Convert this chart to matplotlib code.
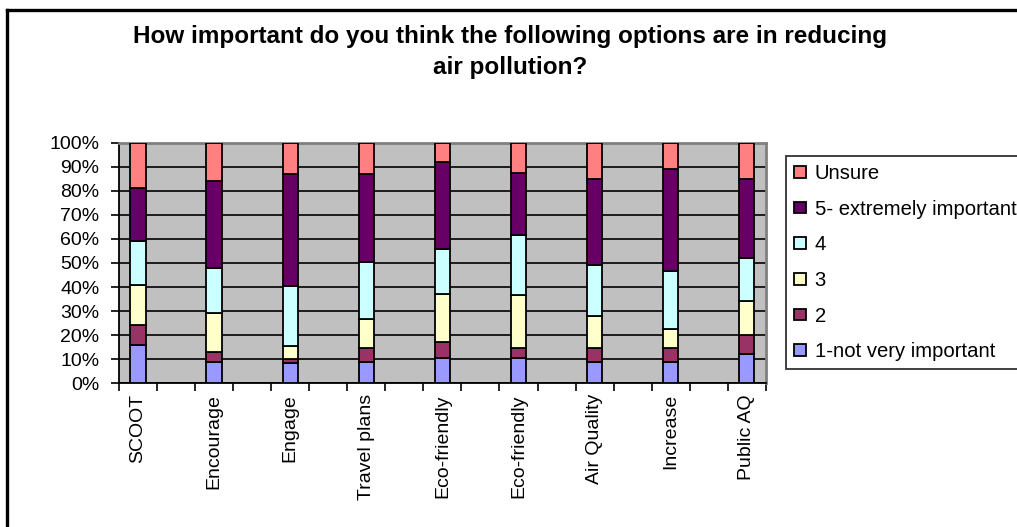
import numpy as np
import matplotlib
matplotlib.use("Agg")
import matplotlib.pyplot as plt
from matplotlib.lines import Line2D

# survey answers per option (percent of respondents)
categories = ['SCOOT', 'Encourage', 'Engage', 'Travel plans', 'Eco-friendly',
              'Eco-friendly', 'Air Quality', 'Increase', 'Public AQ']
not_very = [16, 9, 8.5, 9, 10.5, 10.5, 9, 9, 12]
score_2 = [8, 4, 1.5, 5.5, 6.5, 4, 5.5, 5.5, 8]
score_3 = [17, 16, 5.5, 12, 20, 22, 13.5, 8, 14]
score_4 = [18, 19, 25, 24, 19, 25, 21, 24, 18]
score_5 = [22, 36, 46.5, 36.5, 36, 26, 36, 42.5, 33]
unsure = [19, 16, 13, 13, 8, 12.5, 15, 11, 15]

series = [
    ('1-not very important', not_very, '#9999FF'),
    ('2', score_2, '#993366'),
    ('3', score_3, '#FFFFCC'),
    ('4', score_4, '#CCFFFF'),
    ('5- extremely important', score_5, '#660066'),
    ('Unsure', unsure, '#FF8080'),
]

plt.rcParams['font.family'] = ['Liberation Sans', 'DejaVu Sans']

fig = plt.figure(figsize=(10.17, 5.27), dpi=100)
ax = fig.add_axes([0.117, 0.273, 0.636, 0.456])
ax.set_facecolor('#C0C0C0')

totals = np.sum([np.array(s[1], dtype=float) for s in series], axis=0)
pos = np.arange(len(categories)) * 2   # every other slot stays empty
bottom = np.zeros(len(categories))
handles = []
for label, vals, color in series:
    share = np.array(vals, dtype=float) / totals * 100
    b = ax.bar(pos, share, 0.4, bottom=bottom, color=color,
               edgecolor='black', linewidth=1.3, label=label, zorder=3)
    handles.append(b)
    bottom += share

ax.set_xlim(-0.5, pos[-1] + 0.5)
ax.set_ylim(0, 100)
ax.set_yticks(np.arange(0, 101, 10))
ax.set_yticklabels(['%d%%' % v for v in range(0, 101, 10)])
ax.yaxis.grid(True, color='black', linewidth=1.2, zorder=1)
ax.set_axisbelow(True)

ax.set_xticks(np.arange(-0.5, pos[-1] + 1, 1))
ax.set_xticklabels([])
ax.set_xticks(pos, minor=True)
ax.set_xticklabels(categories, minor=True, rotation=90, fontsize=14)
ax.tick_params(axis='x', which='major', length=6, width=1.2, color='black')
ax.tick_params(axis='x', which='minor', length=0, pad=8)
ax.tick_params(axis='y', length=6, width=1.2, labelsize=14, pad=8)

for side in ('left', 'bottom'):
    ax.spines[side].set_color('black')
    ax.spines[side].set_linewidth(1.3)
for side in ('top', 'right'):
    ax.spines[side].set_color('#808080')
    ax.spines[side].set_linewidth(2)

leg = fig.legend(handles[::-1], [s[0] for s in series][::-1],
                 loc='upper left', bbox_to_anchor=(0.773, 0.704, 0.27, 0.0),
                 mode='expand', fontsize=14.6, frameon=True, fancybox=False,
                 edgecolor='black', handlelength=0.6, handleheight=0.5,
                 handletextpad=0.4, labelspacing=0.82, borderpad=0.4,
                 borderaxespad=0)
leg.get_frame().set_linewidth(1.3)

fig.text(0.5015, 0.93, 'How important do you think the following options are in reducing',
         ha='center', va='center', fontsize=17.5, fontweight='bold')
fig.text(0.5015, 0.871, 'air pollution?',
         ha='center', va='center', fontsize=17.5, fontweight='bold')

# outer chart border, running off the right and bottom edges
fig.add_artist(Line2D([0.0068, 0.0068], [0.0, 0.981], color='black', linewidth=2.4,
                      transform=fig.transFigure))
fig.add_artist(Line2D([0.0068, 1.0], [0.981, 0.981], color='black', linewidth=2.4,
                      transform=fig.transFigure))

fig.savefig('out.png', dpi=100)
